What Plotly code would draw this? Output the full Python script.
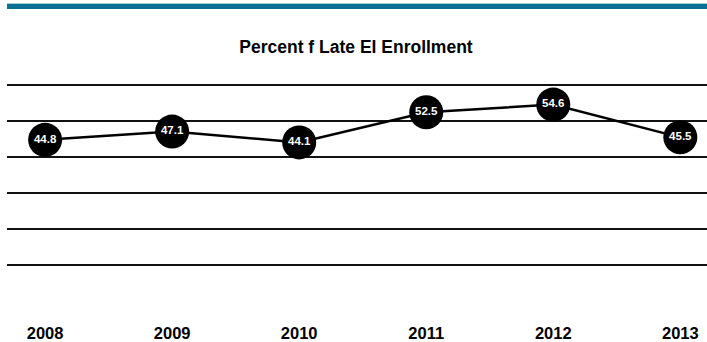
import plotly.graph_objects as go

years = ["2008", "2009", "2010", "2011", "2012", "2013"]
values = [44.8, 47.1, 44.1, 52.5, 54.6, 45.5]
title_text = "Percent f Late EI Enrollment"

W, H = 707, 342
M_L, M_R, M_T, M_B = 7, 0, 78, 38
plot_h = H - M_T - M_B

def ypx_to_paper(py):
    return (H - M_B - py) / plot_h

fig = go.Figure()
fig.add_trace(go.Scatter(
    x=years, y=values,
    mode="lines+markers+text",
    line=dict(color="black", width=2.5),
    marker=dict(size=34, color="black"),
    text=[f"{v:.1f}" for v in values],
    textposition="middle center",
    textfont=dict(color="white", size=11.5, family="Liberation Sans, Arial", weight="bold"),
    cliponaxis=False,
    hoverinfo="skip",
))

fig.update_layout(
    width=W, height=H,
    margin=dict(l=M_L, r=M_R, t=M_T, b=M_B),
    paper_bgcolor="white", plot_bgcolor="white",
    showlegend=False,
    title=dict(text=title_text, x=356 / W, xanchor="center",
               y=1 - 47 / H, yanchor="middle", yref="container",
               font=dict(family="Liberation Sans, Arial", size=17.5, color="black", weight="bold")),
    xaxis=dict(type="category", range=[-0.3, 5.21], showgrid=False, zeroline=False,
               showline=False, ticks="", ticklabelstandoff=20,
               tickfont=dict(family="Liberation Sans, Arial", size=16.5, color="black", weight="bold")),
    yaxis=dict(range=[0, 62], tickvals=[10, 20, 30, 40, 50, 60], showticklabels=False,
               showgrid=True, gridcolor="#111111", gridwidth=2, zeroline=False, showline=False),
    shapes=[
        dict(type="rect", xref="paper", yref="paper", x0=0, x1=1,
             y0=ypx_to_paper(8), y1=ypx_to_paper(3), fillcolor="#0B6E93", line=dict(width=0), layer="above"),
        dict(type="rect", xref="paper", yref="paper", x0=0, x1=1,
             y0=ypx_to_paper(3), y1=ypx_to_paper(2), fillcolor="#A9C9D4", line=dict(width=0), layer="above"),
    ],
)

fig.write_html("out.html")
